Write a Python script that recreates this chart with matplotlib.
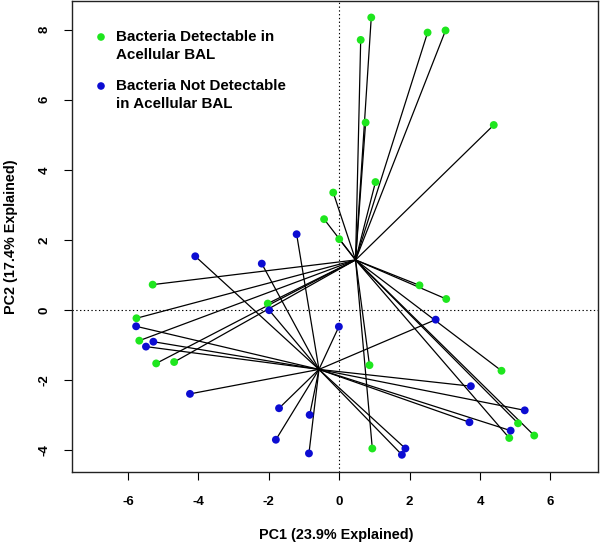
import numpy as np
import matplotlib
matplotlib.use("Agg")
import matplotlib.pyplot as plt

# Group 1: bacteria detectable in acellular BAL (green)
det_x = [0.91, 0.61, 2.51, 3.02, 0.75, 4.39, 1.03, -0.17, -0.43, 0.00,
         -5.30, -2.03, -5.76, -5.68, -5.20, -4.69, 2.28, 3.04, 4.61, 0.86,
         0.94, 5.08, 4.83, 5.54]
det_y = [8.35, 7.71, 7.92, 7.98, 5.35, 5.28, 3.65, 3.35, 2.59, 2.02,
         0.72, 0.18, -0.24, -0.88, -1.53, -1.49, 0.70, 0.31, -1.74, -1.58,
         -3.96, -3.24, -3.66, -3.59]
# Group 2: bacteria not detectable in acellular BAL (blue)
nod_x = [-1.21, -4.09, -2.20, -1.99, -5.77, -5.28, -5.49, -4.24, -1.71, -0.84,
         -1.80, -0.86, 2.74, -0.01, 3.74, 5.27, 3.70, 4.87, 1.88, 1.78]
nod_y = [2.16, 1.53, 1.32, -0.01, -0.47, -0.91, -1.05, -2.40, -2.81, -3.00,
         -3.71, -4.10, -0.28, -0.48, -2.18, -2.87, -3.21, -3.45, -3.96, -4.14]

labels = ["Bacteria Detectable in\nAcellular BAL",
          "Bacteria Not Detectable\nin Acellular BAL"]
xticks = [-6, -4, -2, 0, 2, 4, 6]
yticks = [-4, -2, 0, 2, 4, 6, 8]
xlabel = "PC1 (23.9% Explained)"
ylabel = "PC2 (17.4% Explained)"

GREEN = "#1ee61e"
BLUE = "#0c0cd2"

plt.rcParams['font.family'] = ['Liberation Sans', 'DejaVu Sans']
plt.rcParams['font.weight'] = 'bold'

fig = plt.figure(figsize=(6.0, 5.46), dpi=100)
ax = fig.add_axes([71.7/600, 1-472.3/546, (598.3-71.7)/600, (472.3-0.7)/546])

ax.axvline(0, color='black', lw=0.8, ls=(0, (1.2, 2.2)), zorder=1)
ax.axhline(0, color='black', lw=0.8, ls=(0, (1.2, 2.2)), zorder=1)

groups = [(det_x, det_y, GREEN), (nod_x, nod_y, BLUE)]
for gx, gy, col in groups:
    gx = np.asarray(gx); gy = np.asarray(gy)
    cx, cy = gx.mean(), gy.mean()
    for px, py in zip(gx, gy):
        ax.plot([cx, px], [cy, py], color='black', lw=0.9, zorder=2)
for gx, gy, col in groups:
    ax.scatter(gx, gy, s=32, color=col, edgecolors='none', zorder=3)

ax.set_xlim(-7.6, 7.36)
ax.set_ylim(-4.64, 8.83)
ax.set_xticks(xticks)
ax.set_yticks(yticks)
ax.set_xticklabels([str(t) for t in xticks], fontsize=9.5, fontweight='bold')
ax.set_yticklabels([str(t) for t in yticks], fontsize=9.5, fontweight='bold',
                   rotation=90, va='center')
ax.tick_params(axis='x', direction='out', length=6, width=0.8, pad=11)
ax.tick_params(axis='y', direction='out', length=6, width=0.8, pad=9)
for s in ax.spines.values():
    s.set_linewidth(1.0)
    s.set_color('#222222')

fig.text(336/600, 1-535/546, xlabel, ha='center', va='center',
         fontsize=10.4, fontweight='bold')
fig.text(11/600, 1-236.5/546, ylabel, ha='center', va='center',
         rotation=90, fontsize=10.4, fontweight='bold')

# legend (manual, R-style: key aligned with first line)
key_x = (101 - 71.7) / 526.6
txt_x = (116 - 71.7) / 526.6
line_px = 18.0
entry_tops = [37.0, 86.0]
for lab, col, ytop in zip(labels, [GREEN, BLUE], entry_tops):
    ya = (472.3 - ytop) / 471.6
    ax.scatter([key_x], [ya], s=30, color=col, edgecolors='none',
               transform=ax.transAxes, clip_on=False, zorder=4)
    for i, line in enumerate(lab.split("\n")):
        yl = (472.3 - (ytop + i * line_px)) / 471.6
        ax.text(txt_x, yl, line, transform=ax.transAxes, ha='left',
                va='center', fontsize=10.9, fontweight='bold')

fig.savefig("out.png", dpi=100)
